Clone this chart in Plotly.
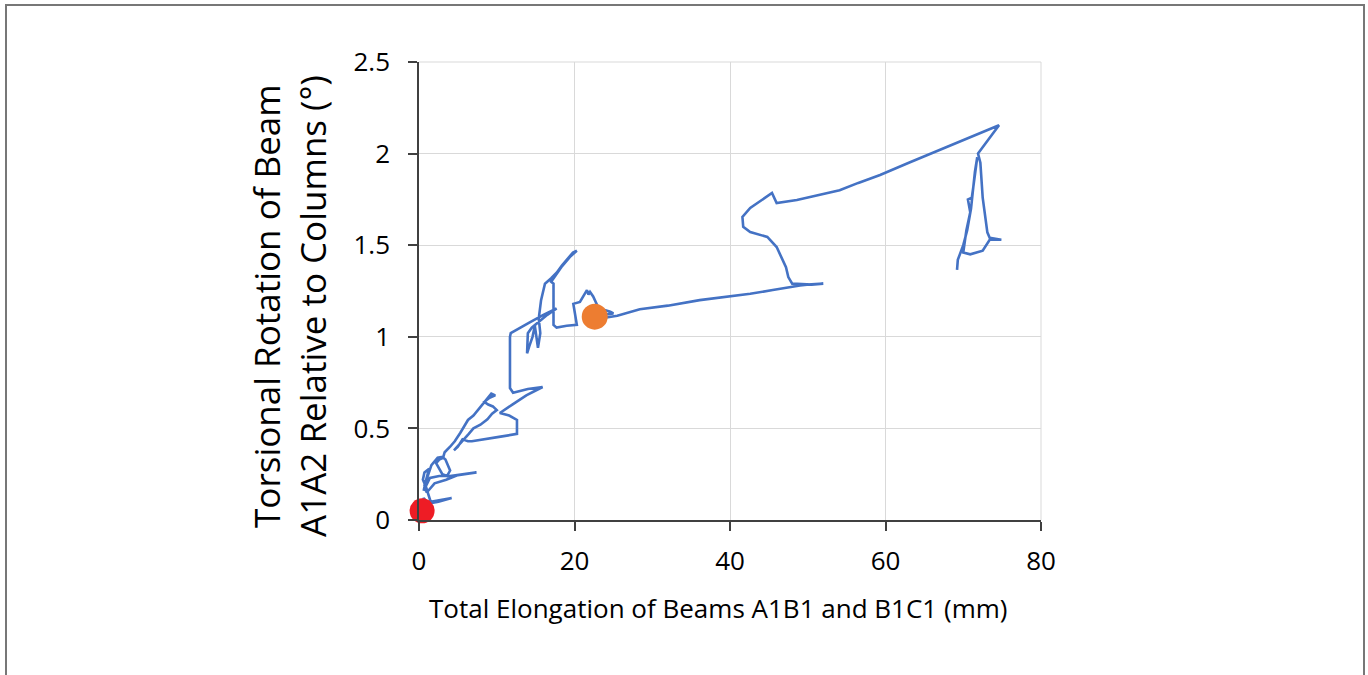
import plotly.graph_objects as go

# Path of the measurement (x: total elongation in mm, y: torsional rotation in degrees)
elong = [0.4, 0.6, 1.2, 2.5, 4.2, 2.8, 1.5, 0.9, 0.5, 0.7,
         1.3, 0.8, 0.6, 1.4, 2.6, 4.0, 5.5, 7.4, 5.0, 3.5,
         2.0, 1.0, 0.7, 1.2, 1.6, 2.4, 3.0, 3.4, 4.0, 3.6,
         3.0, 2.2, 2.6, 3.1, 3.3, 4.0, 4.6, 5.3, 6.3, 7.0,
         7.6, 8.2, 8.7, 9.3, 9.8, 9.0, 8.4, 8.9, 9.5, 10.0,
         9.4, 8.8, 7.9, 7.0, 6.4, 5.8, 5.1, 4.5, 5.0, 5.6,
         6.3, 6.8, 8.5, 10.5, 12.6, 12.6, 11.6, 10.4, 12.0, 13.8,
         15.9, 14.0, 12.1, 11.7, 11.7, 11.7, 11.8, 12.2, 13.0, 14.3,
         16.0, 17.7, 16.5, 15.3, 14.5, 14.0, 13.9, 14.2, 14.6, 14.9,
         15.3, 15.6, 15.4, 15.7, 16.2, 17.0, 17.7, 18.4, 19.0, 19.8,
         20.3, 19.5, 18.3, 17.6, 17.0, 17.3, 17.3, 17.3, 17.7, 19.0,
         20.3, 19.85, 20.7, 21.1, 21.6, 21.8, 22.0, 22.4, 23.1, 24.6,
         25.0, 23.8, 22.6, 23.3, 25.5, 28.4, 32.0, 36.1, 40.0, 42.6,
         45.5, 47.5, 49.0, 50.5, 52.0, 50.5, 48.0, 47.5, 47.2, 46.8,
         46.0, 44.8, 43.6, 42.6, 41.7, 41.6, 42.6, 44.0, 45.4, 46.0,
         48.6, 51.0, 54.1, 56.5, 59.3, 63.0, 67.0, 71.0, 74.6, 71.9,
         72.2, 72.5, 72.8, 73.1, 73.4, 74.9, 73.4, 72.5, 70.9, 70.0,
         70.4, 70.9, 70.6, 71.1, 71.3, 71.8, 71.5, 71.0, 70.5, 70.0,
         69.3, 69.2]
rot = [0.05, 0.12, 0.09, 0.10, 0.12, 0.11, 0.10, 0.18, 0.22, 0.26,
       0.28, 0.20, 0.16, 0.23, 0.24, 0.24, 0.25, 0.26, 0.245, 0.22,
       0.20, 0.15, 0.19, 0.25, 0.30, 0.34, 0.345, 0.33, 0.27, 0.24,
       0.25, 0.31, 0.33, 0.34, 0.37, 0.40, 0.43, 0.475, 0.546, 0.57,
       0.60, 0.63, 0.655, 0.69, 0.68, 0.665, 0.645, 0.63, 0.62, 0.60,
       0.58, 0.55, 0.52, 0.50, 0.47, 0.44, 0.41, 0.38, 0.40, 0.44,
       0.43, 0.43, 0.44, 0.455, 0.47, 0.546, 0.57, 0.584, 0.63, 0.68,
       0.726, 0.715, 0.695, 0.72, 0.85, 1.0, 1.02, 1.03, 1.05, 1.08,
       1.12, 1.155, 1.12, 1.08, 1.05, 1.02, 0.91, 0.95, 1.0, 1.06,
       0.94, 1.02, 1.10, 1.20, 1.29, 1.32, 1.35, 1.39, 1.42, 1.46,
       1.47, 1.44, 1.38, 1.34, 1.30, 1.29, 1.18, 1.065, 1.05, 1.06,
       1.065, 1.18, 1.19, 1.22, 1.255, 1.23, 1.245, 1.22, 1.156, 1.137,
       1.128, 1.12, 1.10, 1.10, 1.115, 1.15, 1.17, 1.20, 1.22, 1.235,
       1.255, 1.27, 1.28, 1.287, 1.29, 1.285, 1.29, 1.326, 1.38, 1.419,
       1.49, 1.545, 1.56, 1.572, 1.60, 1.654, 1.703, 1.745, 1.785, 1.73,
       1.747, 1.77, 1.80, 1.84, 1.883, 1.95, 2.02, 2.09, 2.155, 2.0,
       1.95, 1.76, 1.66, 1.57, 1.54, 1.53, 1.53, 1.47, 1.45, 1.46,
       1.58, 1.68, 1.75, 1.76, 1.82, 1.98, 1.90, 1.70, 1.58, 1.50,
       1.42, 1.365]

start_x = [0.4]
start_y = [0.05]
mark_x = [22.6]
mark_y = [1.11]

x_ticks = [0, 20, 40, 60, 80]
y_ticks = [0, 0.5, 1, 1.5, 2, 2.5]
y_tick_text = ["0", "0.5", "1", "1.5", "2", "2.5"]
x_title = "Total Elongation of Beams A1B1 and B1C1 (mm)"
y_title = "Torsional Rotation of Beam<br>A1A2 Relative to Columns (°)"

FONT = "Open Sans"
AXIS_COL = "#404040"

fig = go.Figure()
fig.add_trace(go.Scatter(x=elong, y=rot, mode="lines",
                         line=dict(color="#4472C4", width=2.6), showlegend=False))
fig.add_trace(go.Scatter(x=start_x, y=start_y, mode="markers",
                         marker=dict(color="#EE1C25", size=25), showlegend=False, cliponaxis=False))
fig.add_trace(go.Scatter(x=mark_x, y=mark_y, mode="markers",
                         marker=dict(color="#ED7D31", size=26), showlegend=False, cliponaxis=False))

fig.update_layout(
    width=1368, height=675,
    margin=dict(l=419, r=327, t=62, b=155),
    paper_bgcolor="white", plot_bgcolor="white",
    font=dict(family=FONT, color="black"),
    xaxis=dict(range=[0, 80], tickvals=x_ticks, ticktext=[str(v) for v in x_ticks],
               showgrid=True, gridcolor="#D9D9D9", gridwidth=1,
               showline=True, linecolor=AXIS_COL, linewidth=1.5, mirror=False,
               ticks="outside", ticklen=9, tickcolor=AXIS_COL, tickwidth=1.5,
               ticklabelstandoff=8,
               tickfont=dict(size=26, family=FONT), zeroline=False),
    yaxis=dict(range=[0, 2.5], tickvals=y_ticks, ticktext=y_tick_text,
               showgrid=True, gridcolor="#D9D9D9", gridwidth=1,
               showline=True, linecolor=AXIS_COL, linewidth=1.5, mirror=False,
               ticks="outside", ticklen=9, tickcolor=AXIS_COL, tickwidth=1.5,
               ticklabelstandoff=13,
               tickfont=dict(size=26, family=FONT), zeroline=False),
    annotations=[
        dict(text=x_title, xref="paper", yref="paper",
             x=(717.5 - 419) / 622, y=(520 - 608) / 458,
             xanchor="center", yanchor="middle", showarrow=False,
             font=dict(size=26, family=FONT, color="black")),
        dict(text=y_title, xref="paper", yref="paper",
             x=(289 - 419) / 622, y=(520 - 306) / 458,
             xanchor="center", yanchor="middle", showarrow=False, textangle=-90,
             font=dict(size=35, family=FONT, color="black")),
    ],
    shapes=[
        dict(type="rect", xref="paper", yref="paper",
             x0=(6 - 419) / 622, x1=(1364 - 419) / 622,
             y0=(520 - 700) / 458, y1=(520 - 5) / 458,
             line=dict(color="#777777", width=2), fillcolor="rgba(0,0,0,0)", layer="below"),
        dict(type="line", xref="paper", yref="paper", x0=0, x1=1, y0=1, y1=1,
             line=dict(color="#D9D9D9", width=1), layer="below"),
        dict(type="line", xref="paper", yref="paper", x0=1, x1=1, y0=0, y1=1,
             line=dict(color="#D9D9D9", width=1), layer="below"),
    ],
)

fig.write_html("out.html")
